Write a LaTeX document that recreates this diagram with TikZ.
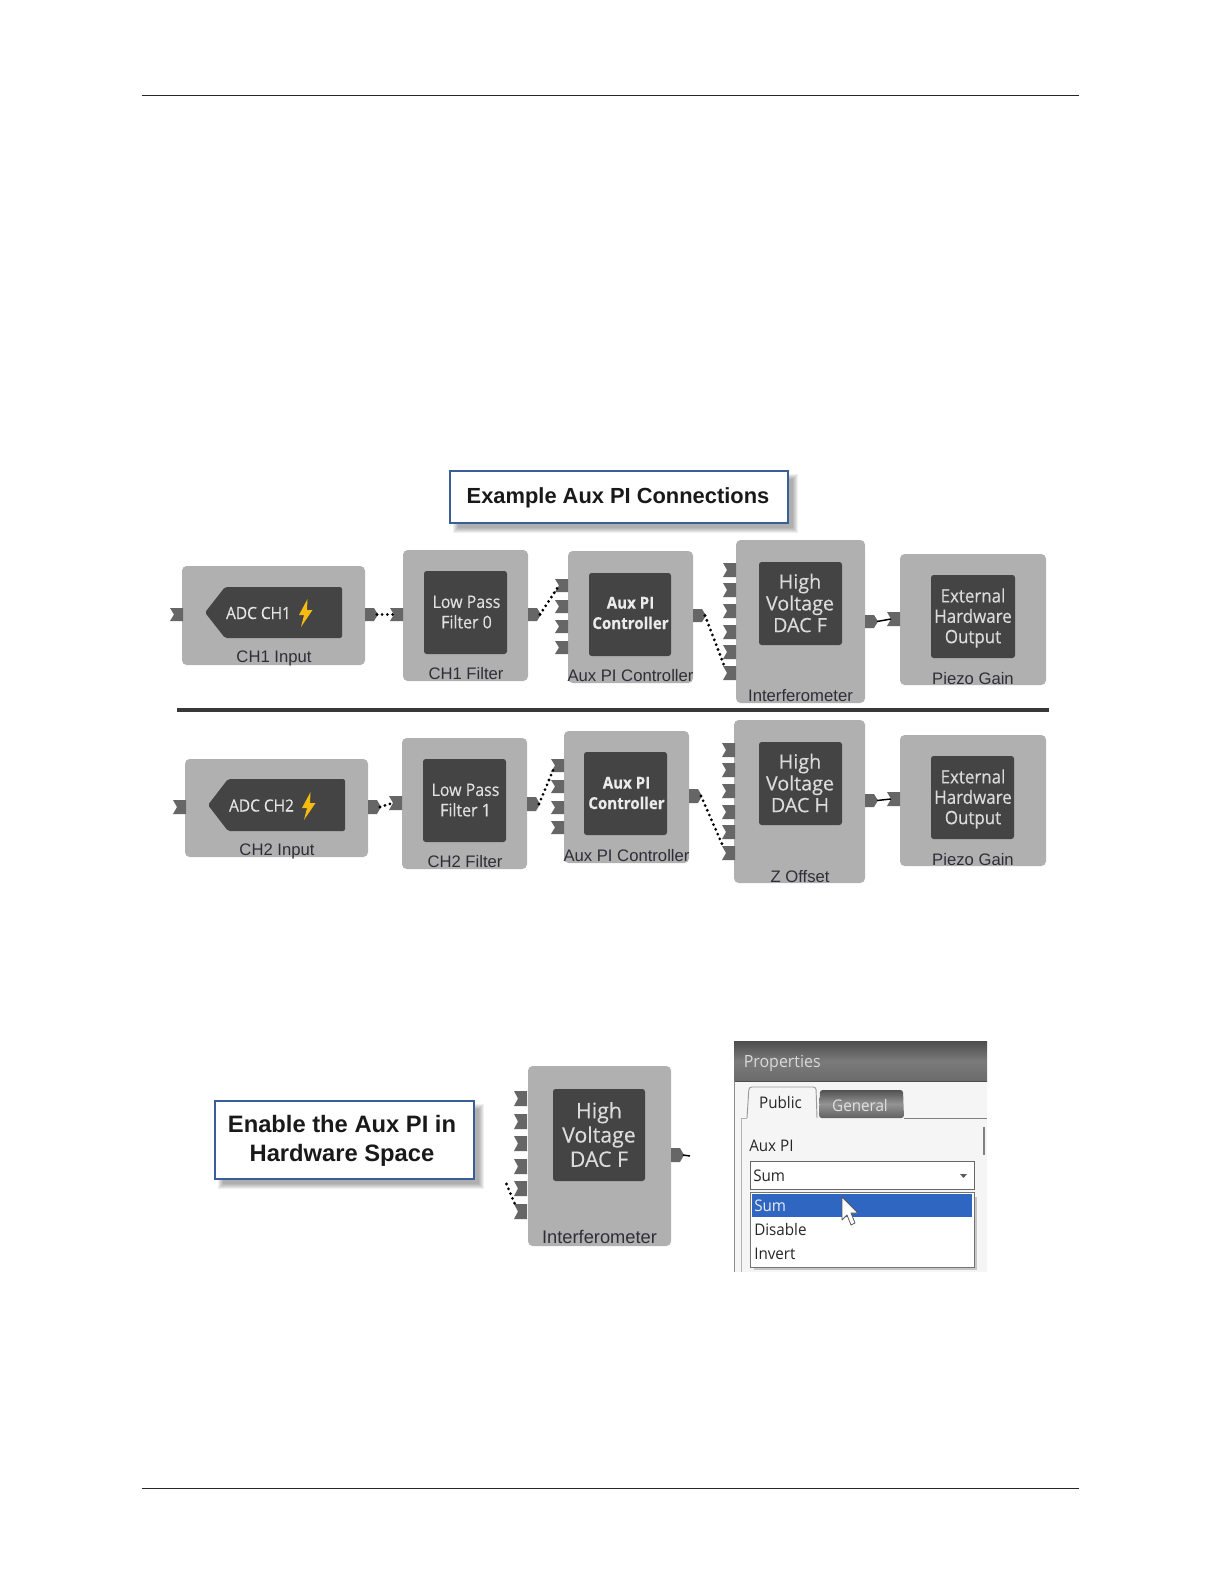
\documentclass[tikz,border=0pt]{standalone}
\usepackage{fontspec}
\usetikzlibrary{fit}
\setmainfont{Liberation Sans}
\newfontfamily\blockfont[FakeStretch=0.92,FakeBold=0.3]{Open Sans}
\newfontfamily\widefont[FakeBold=0.25]{Open Sans}
\newfontfamily\uifont[FakeStretch=0.95]{Open Sans}
\definecolor{blockgray}{HTML}{B0B0B0}
\definecolor{innerdark}{HTML}{444444}
\definecolor{portgray}{HTML}{666666}
\definecolor{calloutblue}{HTML}{3A5F98}
\definecolor{labeltext}{HTML}{2E2E38}
\definecolor{selblue}{HTML}{2E66C2}
\definecolor{bolt}{HTML}{F6BB10}
\tikzset{
  outerbox/.style={fill=blockgray,rounded corners=3.5pt,inner sep=0pt,outer sep=0pt},
  innerbox/.style={fill=innerdark,rounded corners=2pt,inner sep=0pt,outer sep=0pt},
  innertext/.style={text=white!86!black,align=center,inner sep=0pt,font=\widefont\fontsize{14.8}{16.3}\selectfont},
  boldinner/.style={text=white!92!black,align=center,inner sep=0pt,font=\blockfont\bfseries\fontsize{12.3}{15.3}\selectfont},
  thininner/.style={text=white!88!black,align=center,inner sep=0pt,font=\blockfont\fontsize{13}{15.3}\selectfont},
  hwtext/.style={text=white!86!black,align=center,inner sep=0pt,font=\blockfont\fontsize{13.8}{15.3}\selectfont},
  blocklabel/.style={text=labeltext,inner sep=0pt,yshift=-0.6pt,font=\fontsize{12.5}{14}\selectfont},
  dotconn/.style={draw=black,line width=2.3pt,dash pattern=on 0pt off 3.9pt,line cap=round},
  solidconn/.style={draw=black,line width=1.1pt},
  callout/.style={draw=calloutblue,line width=0.8pt,fill=white,inner sep=0pt,outer sep=0pt},
  uitext/.style={text=#1,inner sep=0pt,anchor=west,font=\uifont\fontsize{12}{14}\selectfont},
  uitext/.default=black!85,
}
\newcommand\outerblk[5]{\node[outerbox,fit={(#2,#3)(#4,#5)}] (#1) {};}
\newcommand\innerblk[5]{\node[innerbox,fit={(#2,#3)(#4,#5)}] (#1) {};}
\newcommand\inport[4]{\fill[portgray] (#2,#3) -- ++(13,0) -- ++(0,#4) -- ++(-13,0) -- ++(4,-#4/2) -- cycle;
  \coordinate (#1) at (#2+4,#3+#4/2);}
\newcommand\outport[4]{\fill[portgray] (#2,#3) -- ++(9,0) -- ++(4,#4/2) -- ++(-4,#4/2) -- ++(-9,0) -- cycle;
  \coordinate (#1) at (#2+12,#3+#4/2);}
\newcommand\boltat[2]{\fill[bolt] (#1+8.5,#2) -- (#1,#2+16) -- (#1+5,#2+16) -- (#1+2,#2+28) -- (#1+13.5,#2+11) -- (#1+8,#2+11) -- cycle;}
\newcommand\softshadow[4]{\foreach \k in {0,1,...,5}{\fill[black,opacity=0.06] (#1+8-\k,#2+8-\k) rectangle (#3+8+\k-3,#4+8+\k-3);}}
\begin{document}
\begin{tikzpicture}[x=0.75pt,y=-0.75pt]
\useasboundingbox (0,0) rectangle (1224,1584);
\fill[white] (0,0) rectangle (1224,1584);
% page rules
\coordinate (rt1) at (142,95.5); \coordinate (rt2) at (1079,95.5);
\coordinate (rb1) at (142,1488); \coordinate (rb2) at (1079,1488);
\draw[black!85,line width=0.6pt] (rt1) -- (rt2);
\draw[black!85,line width=0.6pt] (rb1) -- (rb2);

% title callout
\softshadow{450}{471}{788}{523}
\node[callout,fit={(450,471)(788,523)}] (titlebox) {};
\node[inner sep=0pt,font=\bfseries\fontsize{16.4}{18}\selectfont,text=black!90] (titletext) at (618,498) {Example Aux PI Connections};

%--- row 1
\outerblk{a1}{182}{566}{365}{665}
\fill[innerdark,rounded corners=1.5pt] (205,612.5) -- (225,587) -- (342,587) -- (342,638) -- (225,638) -- cycle;
\coordinate (adc1) at (205,612.5);
\node[inner sep=0pt,text=white!90!black,font=\blockfont\fontsize{12.6}{14}\selectfont] (adc1t) at (258.5,613) {ADC CH1};
\boltat{299}{599}
\node[blocklabel] (a1l) at (274,658) {CH1 Input};
\inport{a1i}{170}{608}{13}
\outport{a1o}{365}{608}{13}

\outerblk{b1}{403}{550}{528}{681}
\innerblk{b1in}{424}{571}{507}{654}
\node[thininner] (b1t) at (466.5,612) {Low Pass\\Filter 0};
\node[blocklabel] (b1l) at (466,673) {CH1 Filter};
\inport{b1i}{390}{608}{13}
\outport{b1o}{528}{608}{13}

\outerblk{c1}{568}{551}{693}{683}
\innerblk{c1in}{589}{573}{671}{656}
\node[boldinner] (c1t) at (630.5,613) {Aux PI\\Controller};
\node[blocklabel] (c1l) at (630.5,675) {Aux PI Controller};
\inport{c1i1}{555}{579}{13}
\inport{c1i2}{555}{600}{13}
\inport{c1i3}{555}{620}{13}
\inport{c1i4}{555}{641}{13}
\outport{c1o}{693}{609}{13}

\outerblk{d1}{736}{540}{865}{703}
\innerblk{d1in}{759}{562}{842}{645}
\node[innertext] (d1t) at (800,603) {High\\Voltage\\DAC F};
\node[blocklabel] (d1l) at (800.5,695) {Interferometer};
\inport{d1i1}{723}{563}{14}
\inport{d1i2}{723}{583}{14}
\inport{d1i3}{723}{604}{14}
\inport{d1i4}{723}{625}{14}
\inport{d1i5}{723}{645}{14}
\inport{d1i6}{723}{666}{14}
\outport{d1o}{865}{615}{13}

\outerblk{e1}{900}{554}{1046}{685}
\innerblk{e1in}{931}{575}{1015}{658}
\node[hwtext] (e1t) at (973,618) {External\\Hardware\\Output};
\node[blocklabel] (e1l) at (973,677.5) {Piezo Gain};
\inport{e1i}{887}{612}{14}

\coordinate (sepL) at (177,710); \coordinate (sepR) at (1049,710);
\draw[black!78,line width=3pt] (sepL) -- (sepR);

%--- row 2
\outerblk{a2}{185}{759}{368}{857}
\fill[innerdark,rounded corners=1.5pt] (208,805) -- (228,779) -- (345,779) -- (345,831) -- (228,831) -- cycle;
\coordinate (adc2) at (208,805);
\node[inner sep=0pt,text=white!90!black,font=\blockfont\fontsize{12.6}{14}\selectfont] (adc2t) at (261.5,805.5) {ADC CH2};
\boltat{302}{792}
\node[blocklabel] (a2l) at (277,850.5) {CH2 Input};
\inport{a2i}{173}{800}{14}
\outport{a2o}{368}{800}{14}

\outerblk{b2}{402}{738}{527}{869}
\innerblk{b2in}{423}{759}{506}{842}
\node[thininner] (b2t) at (465.5,800) {Low Pass\\Filter 1};
\node[blocklabel] (b2l) at (465,861) {CH2 Filter};
\inport{b2i}{389}{796}{14}
\outport{b2o}{527}{797}{14}

\outerblk{c2}{564}{731}{689}{863}
\innerblk{c2in}{584}{752}{667}{835}
\node[boldinner] (c2t) at (626.5,793) {Aux PI\\Controller};
\node[blocklabel] (c2l) at (626.5,855) {Aux PI Controller};
\inport{c2i1}{551}{759}{13}
\inport{c2i2}{551}{780}{13}
\inport{c2i3}{551}{801}{13}
\inport{c2i4}{551}{821}{13}
\outport{c2o}{689}{789}{14}

\outerblk{d2}{734}{720}{865}{883}
\innerblk{d2in}{759}{742}{842}{825}
\node[innertext] (d2t) at (800,783) {High\\Voltage\\DAC H};
\node[blocklabel] (d2l) at (800,875.5) {Z Offset};
\inport{d2i1}{722}{743}{14}
\inport{d2i2}{722}{763}{14}
\inport{d2i3}{722}{784}{14}
\inport{d2i4}{722}{805}{14}
\inport{d2i5}{722}{825}{14}
\inport{d2i6}{722}{846}{14}
\outport{d2o}{865}{794}{13}

\outerblk{e2}{900}{735}{1046}{866}
\innerblk{e2in}{931}{756}{1014}{839}
\node[hwtext] (e2t) at (973,799) {External\\Hardware\\Output};
\node[blocklabel] (e2l) at (973,859) {Piezo Gain};
\inport{e2i}{887}{792}{14}

% connectors
\draw[dotconn] (a1o) -- (b1i);
\draw[dotconn,shorten >=1pt] (b1o) -- (c1i1);
\draw[dotconn,shorten >=5pt] (c1o) -- (d1i6);
\draw[solidconn] (d1o) -- (e1i);
\draw[dotconn] (a2o) -- (b2i);
\draw[dotconn,shorten >=1pt] (b2o) -- (c2i1);
\draw[dotconn,shorten >=5pt] (c2o) -- (d2i6);
\draw[solidconn] (d2o) -- (e2i);

%--- lower left callout
\softshadow{215}{1101}{474}{1179}
\node[callout,fit={(215,1101)(474,1179)}] (enablebox) {};
\node[inner sep=0pt,align=center,font=\bfseries\fontsize{17.8}{22.2}\selectfont,text=black!90] (enabletext) at (342,1141) {Enable the Aux PI in\\Hardware Space};

%--- lower block
\outerblk{d3}{528}{1066}{671}{1246}
\innerblk{d3in}{553}{1089}{645}{1181}
\node[innertext,font=\widefont\fontsize{16}{18.2}\selectfont] (d3t) at (599,1134.5) {High\\Voltage\\DAC F};
\node[blocklabel,font=\fontsize{13.7}{15}\selectfont] (d3l) at (599.5,1236.5) {Interferometer};
\inport{d3i1}{514}{1091}{15}
\inport{d3i2}{514}{1114}{15}
\inport{d3i3}{514}{1136}{15}
\inport{d3i4}{514}{1159}{15}
\inport{d3i5}{514}{1181}{15}
\inport{d3i6}{514}{1204}{15}
\outport{d3o}{671}{1148}{14}
\coordinate (d3free) at (690,1156);
\coordinate (d3dot) at (506.5,1184);
\draw[solidconn] (d3o) -- (d3free);
\draw[dotconn,shorten >=5pt] (d3dot) -- (d3i6);

%--- properties panel
\fill[white!96!black] (734,1081) rectangle (987,1272);
\shade[top color=black!70,bottom color=black!58,middle color=black!52] (734,1041) rectangle (987,1081);
\draw[black!70,line width=0.7pt] (734,1081) -- (987,1081);
\node[uitext=white!85!black,font=\uifont\fontsize{12.6}{14}\selectfont] (proptitle) at (743.5,1063.5) {Properties};
\draw[black!45,line width=0.7pt] (734,1081) -- (734,1272);
\draw[black!30,line width=0.7pt] (741,1118) -- (741,1272);
\draw[black!30,line width=0.7pt] (741,1118) -- (747,1118);
\draw[black!50,line width=0.7pt] (904,1118) -- (987,1118);
\draw[black!50,line width=2pt] (984,1127) -- (984,1155);
% tabs
\filldraw[fill=white!96!black,draw=black!40,line width=0.7pt,rounded corners=2pt] (747,1118) -- (749,1087) -- (816,1087) -- (817,1118);
\shade[top color=black!68,bottom color=black!62,middle color=black!42,rounded corners=2pt] (819,1118) -- (820,1090) -- (903,1090) -- (904,1118) -- cycle;
\node[uitext,anchor=center] (tabpublic) at (780.5,1102.5) {Public};
\node[uitext=white!88!black,anchor=center] (tabgeneral) at (860,1105) {General};
\node[uitext] (auxpilabel) at (749,1146) {Aux PI};
% combo
\node[fill=white,draw=black!60,line width=0.7pt,inner sep=0pt,outer sep=0pt,fit={(750,1161)(974,1189)}] (combo) {};
\node[uitext] (combotext) at (753,1175.5) {Sum};
\fill[black!65] (960,1174) -- (967,1174) -- (963.5,1178) -- cycle;
% dropdown
\fill[black!22] (754,1197) rectangle (977,1270);
\node[fill=white,draw=black!55,line width=0.7pt,inner sep=0pt,outer sep=0pt,fit={(750,1192)(974,1267)}] (droplist) {};
\fill[selblue] (752,1193.5) rectangle (972,1217);
\node[uitext=white!92!black] (optsum) at (754,1205.5) {Sum};
\node[uitext] (optdisable) at (754,1229.5) {Disable};
\node[uitext] (optinvert) at (754,1254) {Invert};
% cursor
\filldraw[fill=white,draw=black!65,line width=0.6pt,line join=round] (842,1197) -- (842,1220) -- (847,1215) -- (851,1225) -- (855,1223) -- (851,1213) -- (858,1213) -- cycle;
\end{tikzpicture}
\end{document}
